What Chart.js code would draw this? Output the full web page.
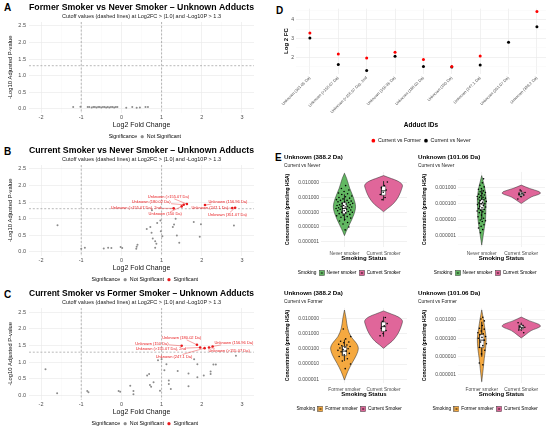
<!DOCTYPE html>
<html>
<head>
<meta charset="utf-8">
<script src="https://cdn.jsdelivr.net/npm/chart.js@4.4.1/dist/chart.umd.min.js"></script>
<style>
  body { margin: 0; width: 550px; height: 430px; background: #fff; position: relative; overflow: hidden;
         font-family: "Liberation Sans", Arial, sans-serif; }
  canvas { position: absolute; }
  .tag { position: absolute; font-weight: bold; font-size: 10px; line-height: 10px; color: #000; }
</style>
</head>
<body>
<div class="tag" style="left:4px;top:3px">A</div>
<div class="tag" style="left:4px;top:147px">B</div>
<div class="tag" style="left:4px;top:290px">C</div>
<div class="tag" style="left:276px;top:6px">D</div>
<div class="tag" style="left:275px;top:153px">E</div>

<canvas id="cA" width="268" height="143" style="left:0;top:0"></canvas>
<canvas id="cB" width="268" height="143" style="left:0;top:143px"></canvas>
<canvas id="cC" width="268" height="144" style="left:0;top:286px"></canvas>
<canvas id="cD" width="280" height="150" style="left:270px;top:0"></canvas>
<canvas id="cE1" width="141" height="130" style="left:284px;top:150px"></canvas>
<canvas id="cE2" width="132" height="130" style="left:418px;top:150px"></canvas>
<canvas id="cE3" width="141" height="130" style="left:284px;top:286px"></canvas>
<canvas id="cE4" width="132" height="130" style="left:418px;top:286px"></canvas>

<script>
// ---------- volcano data (log2 FC, -log10 adj p) ----------
const fcTicks = [-2, -1, 0, 1, 2, 3];
const pTicks = [0, 0.5, 1, 1.5, 2, 2.5];
const cutoffFC = 1.0;
const cutoffP = 1.3;

// A: former vs never
const aNsX = [-1.2, -1.02, -0.84, -0.8, -0.74, -0.7, -0.66, -0.62, -0.58, -0.54, -0.5, -0.46, -0.42, -0.38,
              -0.34, -0.3, -0.26, -0.22, -0.18, -0.14, -0.1, 0.12, 0.27, 0.38, 0.46, 0.6, 0.66];
const aNsY = [0.05, 0.06, 0.05, 0.05, 0.04, 0.05, 0.05, 0.04, 0.05, 0.05, 0.04, 0.05, 0.05, 0.04,
              0.05, 0.04, 0.05, 0.05, 0.04, 0.05, 0.05, 0.03, 0.05, 0.03, 0.04, 0.05, 0.05];

// B: current vs never
const bNsX = [-1.59, -1.0, -0.91, -0.44, -0.33, -0.25, -0.02, 0.02, 0.38, 0.4, 0.37, 0.63, 0.72, 0.75, 0.78, 0.84,
              0.84, 0.87, 0.89, 0.76, 0.97, 0.98, 1.02, 1.28, 1.31, 1.35, 1.38, 1.44, 1.8, 1.95, 1.98, 2.8];
const bNsY = [0.80, 0.09, 0.12, 0.10, 0.12, 0.11, 0.14, 0.11, 0.15, 0.21, 0.09, 0.69, 0.75, 0.57, 0.40, 0.32,
              0.12, 0.24, 0.87, 1.25, 0.94, 0.62, 0.47, 0.75, 0.82, 1.0, 0.49, 0.27, 0.9, 0.45, 0.83, 0.79];
const bSigName = ["Unknown (>155.07 Da), 2nd", "Unknown (150 Da)", "Unknown (180.02 Da)", "Unknown (>155.07 Da)",
                  "Unknown (156.96 Da)", "Unknown (247.1 Da)", "Unknown (351.07 Da)"];
const bSigX = [1.3, 1.5, 1.55, 1.63, 2.08, 2.76, 2.83];
const bSigY = [1.31, 1.37, 1.42, 1.44, 1.41, 1.32, 1.33];

// C: current vs former
const cNsX = [-1.89, -1.6, -0.85, -0.82, -0.07, -0.03, 0.22, 0.3, 0.3, 0.64, 0.69, 0.71, 0.74, 0.8, 0.96, 0.91, 1.0,
              1.07, 1.12, 1.18, 1.18, 1.23, 1.4, 1.67, 1.67, 1.81, 1.89, 1.89, 2.05, 2.22, 2.22, 2.29, 2.35, 2.85];
const cNsY = [0.79, 0.07, 0.14, 0.10, 0.14, 0.12, 0.30, 0.14, 0.04, 0.60, 0.65, 0.32, 0.27, 0.40, 0.15, 1.06, 1.09,
              0.76, 0.94, 0.45, 0.35, 0.20, 0.74, 0.66, 0.28, 1.09, 0.94, 0.55, 0.60, 0.65, 0.72, 0.93, 0.93, 1.19];
const cSigName = ["Unknown (150 Da)", "Unknown (180.02 Da)", "Unknown (>155.07 Da), 2nd", "Unknown (247.1 Da)",
                  "Unknown (>155.07 Da)", "Unknown (156.96 Da)"];
const cSigX = [1.5, 1.88, 1.96, 2.07, 2.18, 2.27];
const cSigY = [1.49, 1.52, 1.44, 1.42, 1.44, 1.47];

// ---------- D: log2 fold changes ----------
const adducts = ["Unknown (101.06 Da)", "Unknown (>155.07 Da)", "Unknown (>155.07 Da), 2nd", "Unknown (156.96 Da)",
                 "Unknown (180.02 Da)", "Unknown (150 Da)", "Unknown (247.1 Da)", "Unknown (351.07 Da)", "Unknown (388.2 Da)"];
const fcFormer = [3.3, 2.18, 1.96, 2.27, 1.88, 1.5, 2.07, null, 4.45];
const fcNever = [3.03, 1.61, 1.29, 2.05, 1.5, 1.48, 1.59, 2.8, 3.64];
const fcAxisTicks = [2, 3, 4];

// ---------- E: concentrations (log10 pmol/mg HSA) ----------
const ticks388 = [1e-2, 1e-3, 1e-4, 1e-5, 1e-6];
const ticks101 = [1e-3, 1e-4, 1e-5, 1e-6];

// violin outlines: level (log10) and density half-width
const never388Lv = [-1.36, -1.70, -2.38, -3.06, -3.63, -4.19, -4.87, -5.32, -5.59];
const never388Dens = [0, 0.054, 0.135, 0.236, 0.284, 0.236, 0.122, 0.041, 0];
const current388Lv = [-1.52, -1.72, -1.9, -2.15, -2.45, -2.85, -3.2, -3.5, -3.75, -3.97];
const current388Dens = [0, 0.2, 0.37, 0.48, 0.46, 0.4, 0.32, 0.22, 0.1, 0];
const former388Lv = [-1.46, -2.0, -2.66, -3.21, -3.64, -3.97, -4.41, -4.95, -5.5, -6.05];
const former388Dens = [0, 0.041, 0.082, 0.17, 0.306, 0.354, 0.306, 0.19, 0.082, 0];
const never101Lv = [-2.25, -2.63, -3.04, -3.66, -4.28, -4.90, -5.52, -6.04, -6.56];
const never101Dens = [0, 0.039, 0.078, 0.111, 0.105, 0.098, 0.065, 0.033, 0];
const current101Lv = [-2.84, -3.05, -3.24, -3.36, -3.58, -3.8, -3.98];
const current101Dens = [0, 0.21, 0.45, 0.48, 0.25, 0.11, 0];
const former101Lv = [-2.45, -2.91, -3.45, -4.0, -4.55, -5.09, -5.64, -6.37];
const former101Dens = [0, 0.039, 0.078, 0.111, 0.098, 0.065, 0.039, 0];

// box stats: lower whisker, q1, median, q3, upper whisker (log10)
const never388Box = [-4.6, -4.1, -3.75, -3.35, -2.8];
const current388Box = [-3.2, -2.85, -2.55, -2.25, -1.9];
const former388Box = [-4.8, -4.45, -4.15, -3.85, -3.4];
const never101Box = [-5.0, -4.35, -4.0, -3.75, -3.1];
const current101Box = [-3.6, -3.5, -3.4, -3.28, -3.15];
const former101Box = [-5.0, -4.5, -4.1, -3.8, -3.1];

// individual samples (log10)
const never388Pts = [-2.2, -2.4, -2.5, -2.6, -2.7, -2.75, -2.8, -2.9, -2.95, -3.0, -3.05, -3.1, -3.15, -3.2, -3.2, -3.25,
                     -3.3, -3.3, -3.35, -3.4, -3.4, -3.45, -3.5, -3.5, -3.55, -3.55, -3.6, -3.6, -3.65, -3.65, -3.7,
                     -3.7, -3.75, -3.75, -3.8, -3.8, -3.85, -3.9, -3.9, -3.95, -4.0, -4.0, -4.05, -4.1, -4.15, -4.2,
                     -4.25, -4.3, -4.35, -4.4, -4.5, -4.6, -4.7, -4.8, -5.0, -5.2];
const current388Pts = [-1.95, -2.2, -2.35, -2.5, -2.65, -2.8, -3.0, -3.15];
const former388Pts = [-2.7, -3.2, -3.35, -3.5, -3.55, -3.6, -3.7, -3.75, -3.8, -3.85, -3.9, -3.95, -4.0, -4.05,
                      -4.1, -4.15, -4.2, -4.3, -4.4, -4.5, -4.65, -4.8, -5.0, -5.3];
const never101Pts = [-2.45, -2.7, -2.85, -2.95, -3.05, -3.1, -3.2, -3.25, -3.3, -3.35, -3.4, -3.45, -3.5, -3.55,
                     -3.6, -3.6, -3.65, -3.7, -3.7, -3.75, -3.8, -3.85, -3.9, -3.95, -4.0, -4.0, -4.05, -4.1, -4.15,
                     -4.2, -4.25, -4.3, -4.35, -4.4, -4.45, -4.5, -4.55, -4.6, -4.7, -4.8, -4.9, -5.0, -5.05, -5.1,
                     -5.2, -5.3, -5.4, -5.5, -5.6, -5.8];
const current101Pts = [-3.15, -3.3, -3.35, -3.4, -3.45, -3.55, -3.7];
const former101Pts = [-2.85, -2.95, -3.05, -3.3, -3.45, -3.5, -3.6, -3.7, -3.75, -3.8, -3.9, -3.95, -4.0, -4.1,
                      -4.2, -4.3, -4.4, -4.5, -4.65, -4.85, -5.35, -5.45];

// ---------- shared styling ----------
const FONT = "'Liberation Sans', Arial, sans-serif";
const AX = '#4d4d4d';
const RED = '#e8191c';
const GREEN = '#62b862';
const PINK = '#e0669a';
const ORANGE = '#f5a940';
const GRID_MAJOR = '#e8e8e8';
const GRID_MINOR = '#f4f4f4';
const SUB = 'Cutoff values (dashed lines) at Log2FC > |1.0| and -Log10P > 1.3';

function near(list, v) { return list.some(t => Math.abs(t - v) < 1e-9); }
function gridStyle(majors) {
  return {
    drawTicks: false,
    color: c => (c.tick && near(majors, c.tick.value)) ? GRID_MAJOR : GRID_MINOR,
    lineWidth: c => (c.tick && near(majors, c.tick.value)) ? 0.6 : 0.4
  };
}
function blankMarker() { const c = document.createElement('canvas'); c.width = 1; c.height = 1; return c; }
function keyMarker(fill) {
  const c = document.createElement('canvas'); c.width = 6; c.height = 6;
  const g = c.getContext('2d');
  g.fillStyle = fill; g.fillRect(0.5, 0.5, 5, 5);
  g.strokeStyle = '#333'; g.lineWidth = 0.5; g.strokeRect(0.5, 0.5, 5, 5);
  g.fillStyle = '#000'; g.beginPath(); g.arc(3, 3, 0.8, 0, Math.PI * 2); g.fill();
  return c;
}

// dashed cutoff lines
const cutoffs = {
  id: 'cutoffs',
  beforeDatasetsDraw(chart, args, opts) {
    const { ctx, chartArea: a, scales: { x, y } } = chart;
    ctx.save();
    ctx.strokeStyle = '#8a8a8a'; ctx.lineWidth = 0.6; ctx.setLineDash([2, 1.8]);
    [-opts.fc, opts.fc].forEach(v => {
      const px = x.getPixelForValue(v);
      ctx.beginPath(); ctx.moveTo(px, a.top); ctx.lineTo(px, a.bottom); ctx.stroke();
    });
    const py = y.getPixelForValue(opts.p);
    ctx.beginPath(); ctx.moveTo(a.left, py); ctx.lineTo(a.right, py); ctx.stroke();
    ctx.restore();
  }
};

// labels for significant adducts, with a leader line when the label sits away
const repelLabels = {
  id: 'repelLabels',
  afterDatasetsDraw(chart, args, opts) {
    if (!opts.names || !opts.names.length) return;
    const { ctx, scales: { x, y } } = chart;
    const size = 4;
    ctx.save();
    ctx.font = size + 'px ' + FONT;
    ctx.fillStyle = RED; ctx.strokeStyle = RED; ctx.lineWidth = 0.4;
    ctx.textAlign = 'center'; ctx.textBaseline = 'middle';
    opts.names.forEach((name, i) => {
      const px = x.getPixelForValue(opts.px[i]), py = y.getPixelForValue(opts.py[i]);
      const tx = x.getPixelForValue(opts.at[i][0]), ty = y.getPixelForValue(opts.at[i][1]);
      const hw = ctx.measureText(name).width / 2 + 0.4, hh = size * 0.6;
      const dx = px - tx, dy = py - ty;
      const t = Math.min(dx ? hw / Math.abs(dx) : Infinity, dy ? hh / Math.abs(dy) : Infinity);
      if (t < 0.9) {
        ctx.beginPath(); ctx.moveTo(tx + dx * t, ty + dy * t); ctx.lineTo(px - dx * 0.03, py - dy * 0.03); ctx.stroke();
      }
      ctx.fillText(name, tx, ty);
    });
    ctx.restore();
  }
};

function volcano(id, title, nsX, nsY, sigName, sigX, sigY, labelAt) {
  const ns = nsX.map((x, i) => ({ x, y: nsY[i] }));
  const sig = sigX.map((x, i) => ({ x, y: sigY[i] }));
  const items = [
    { text: 'Significance', fillStyle: 'rgba(0,0,0,0)', strokeStyle: 'rgba(0,0,0,0)', lineWidth: 0, pointStyle: blankMarker() },
    { text: 'Not Significant', fillStyle: '#8c8c8c', strokeStyle: '#8c8c8c', lineWidth: 0, pointStyle: 'circle' }
  ];
  if (sig.length) items.push({ text: 'Significant', fillStyle: RED, strokeStyle: RED, lineWidth: 0, pointStyle: 'circle' });
  const fcGrid = [-2, -1.5, -1, -0.5, 0, 0.5, 1, 1.5, 2, 2.5, 3];
  const pGrid = [0, 0.25, 0.5, 0.75, 1, 1.25, 1.5, 1.75, 2, 2.25, 2.5];

  new Chart(document.getElementById(id), {
    type: 'scatter',
    data: {
      datasets: [
        { label: 'Significant', data: sig, pointRadius: 1.3, backgroundColor: RED, borderWidth: 0 },
        { label: 'Not Significant', data: ns, pointRadius: 1.0, backgroundColor: '#8c8c8c', borderWidth: 0 }
      ]
    },
    options: {
      responsive: false, animation: false, events: [],
      layout: { padding: { left: 0, right: 14, top: 0, bottom: 0 } },
      plugins: {
        title: { display: true, text: title, align: 'center', fullSize: false, color: '#000',
                 font: { family: FONT, size: 9, weight: 'bold' }, padding: { top: 1.9, bottom: 0 } },
        subtitle: { display: true, text: SUB, align: 'center', fullSize: false, color: '#222',
                    font: { family: FONT, size: 5.5 }, padding: { top: 0, bottom: 2.7 } },
        legend: { position: 'bottom', fullSize: false, maxHeight: 11.95,
                  labels: { usePointStyle: true, boxWidth: 4, boxHeight: 2.3, padding: 3, color: '#222',
                            font: { family: FONT, size: 5.3 }, generateLabels: () => items } },
        tooltip: { enabled: false },
        cutoffs: { fc: cutoffFC, p: cutoffP },
        repelLabels: { names: sigName, px: sigX, py: sigY, at: labelAt }
      },
      scales: {
        x: {
          type: 'linear', min: -2.3, max: 3.3,
          afterBuildTicks: s => { s.ticks = fcGrid.map(v => ({ value: v })); },
          afterFit: s => { s.height = 18.35; },
          ticks: { callback: v => near(fcTicks, v) ? String(v) : '', padding: 1.5, color: AX, maxRotation: 0,
                   font: { family: FONT, size: 5.5 } },
          grid: gridStyle(fcTicks), border: { display: false },
          title: { display: true, text: 'Log2 Fold Change', color: '#111', font: { family: FONT, size: 7 },
                   padding: { top: 0, bottom: 1.85 } }
        },
        y: {
          type: 'linear', min: -0.12, max: 2.62,
          afterBuildTicks: s => { s.ticks = pGrid.map(v => ({ value: v })); },
          afterFit: s => { s.width = 29; },
          ticks: { callback: v => near(pTicks, v) ? v.toFixed(1) : '', padding: 3, color: AX,
                   font: { family: FONT, size: 5.5 } },
          grid: gridStyle(pTicks), border: { display: false },
          title: { display: true, text: '-Log10 Adjusted P-value', color: '#111', font: { family: FONT, size: 5.8 },
                   padding: { top: 6.5, bottom: 0 } }
        }
      }
    },
    plugins: [cutoffs, repelLabels]
  });
}

volcano('cA', 'Former Smoker vs Never Smoker \u2013 Unknown Adducts', aNsX, aNsY, [], [], [], []);
volcano('cB', 'Current Smoker vs Never Smoker \u2013 Unknown Adducts', bNsX, bNsY, bSigName, bSigX, bSigY,
        [[0.36, 1.31], [1.09, 1.13], [0.74, 1.5], [1.17, 1.67], [2.65, 1.51], [2.2, 1.31], [2.64, 1.12]]);
volcano('cC', 'Current Smoker vs Former Smoker \u2013 Unknown Adducts', cNsX, cNsY, cSigName, cSigX, cSigY,
        [[0.76, 1.56], [1.5, 1.74], [0.98, 1.39], [1.31, 1.16], [2.68, 1.34], [2.8, 1.59]]);

// ---------- D ----------
const dPos = adducts.map((a, i) => i + 1);
new Chart(document.getElementById('cD'), {
  type: 'scatter',
  data: {
    datasets: [
      { label: 'Current vs Former', data: dPos.map((x, i) => ({ x, y: fcFormer[i] })), pointRadius: 1.5,
        pointBorderWidth: 0, backgroundColor: '#ff0000', borderColor: '#ff0000' },
      { label: 'Current vs Never', data: dPos.map((x, i) => ({ x, y: fcNever[i] })), pointRadius: 1.5,
        pointBorderWidth: 0, backgroundColor: '#000000', borderColor: '#000000' }
    ]
  },
  options: {
    responsive: false, animation: false, events: [],
    layout: { padding: { left: 0, right: 3, top: 8.6, bottom: 0 } },
    plugins: {
      legend: { position: 'bottom', fullSize: false, maxHeight: 14.95,
                labels: { usePointStyle: true, pointStyle: 'circle', boxWidth: 4, boxHeight: 2.6, padding: 3,
                          color: '#111', font: { family: FONT, size: 5.3 } } },
      tooltip: { enabled: false }
    },
    scales: {
      x: {
        type: 'linear', min: 0.51, max: 9.32,
        afterBuildTicks: s => { s.ticks = dPos.map(v => ({ value: v })); },
        afterFit: s => { s.height = 61.55; s.paddingLeft = 0; s.paddingRight = 0; },
        ticks: { callback: v => adducts[Math.round(v) - 1], autoSkip: false, minRotation: 45, maxRotation: 45,
                 padding: 2, color: AX, font: { family: FONT, size: 4 } },
        grid: { drawTicks: false, color: GRID_MAJOR, lineWidth: 0.6 }, border: { display: false },
        title: { display: true, text: 'Adduct IDs', color: '#000', font: { family: FONT, size: 6.5, weight: 'bold' },
                 padding: { top: 0, bottom: 6.15 } }
      },
      y: {
        type: 'linear', min: 1.13, max: 4.61,
        afterBuildTicks: s => { s.ticks = [1.5, 2, 2.5, 3, 3.5, 4, 4.5].map(v => ({ value: v })); },
        afterFit: s => { s.width = 26; },
        ticks: { callback: v => near(fcAxisTicks, v) ? String(v) : '', padding: 2, color: AX,
                 font: { family: FONT, size: 5 } },
        grid: gridStyle(fcAxisTicks), border: { display: false },
        title: { display: true, text: 'Log 2 FC', color: '#000', font: { family: FONT, size: 6, weight: 'bold' },
                 padding: { top: 12.4, bottom: 0 } }
      }
    }
  }
});

// ---------- E: violins ----------
function widthAt(lv, dens, v) {
  for (let i = 0; i < lv.length - 1; i++) {
    const a = lv[i], b = lv[i + 1];
    if (v <= a && v >= b) return dens[i] + (dens[i + 1] - dens[i]) * (a - v) / (a - b);
  }
  return 0;
}
function jitter(i, seed) { return (((i + 1) * 0.6180339887 + seed * 0.37) % 1) * 2 - 1; }
const pow = v => Math.pow(10, v);

function violinPanel(id, o) {
  const ds = [];
  o.groups.forEach((g, gi) => {
    const cx = gi + 1;
    ds.push({
      data: g.pts.map((v, i) => ({ x: cx + jitter(i, gi + o.seed) * Math.min(g.jit, widthAt(g.lv, g.dens, v) * 0.85 + 0.03),
                                   y: pow(v) })),
      pointRadius: 0.8, backgroundColor: '#000', borderWidth: 0, order: 0
    });
    const [lo, q1, med, q3, hi] = g.box, bw = 0.055;
    ds.push({ data: [{ x: cx - bw, y: pow(med) }, { x: cx + bw, y: pow(med) }], showLine: true, pointRadius: 0,
              borderColor: '#000', borderWidth: 0.8, order: 1 });
    ds.push({ data: [{ x: cx - bw, y: pow(q1) }, { x: cx + bw, y: pow(q1) }, { x: cx + bw, y: pow(q3) },
                     { x: cx - bw, y: pow(q3) }, { x: cx - bw, y: pow(q1) }],
              showLine: true, fill: 'shape', backgroundColor: '#fff', borderColor: '#222', borderWidth: 0.5,
              pointRadius: 0, tension: 0, order: 2 });
    ds.push({ data: [{ x: cx, y: pow(hi) }, { x: cx, y: pow(q3) }], showLine: true, pointRadius: 0,
              borderColor: '#222', borderWidth: 0.5, order: 3 });
    ds.push({ data: [{ x: cx, y: pow(q1) }, { x: cx, y: pow(lo) }], showLine: true, pointRadius: 0,
              borderColor: '#222', borderWidth: 0.5, order: 3 });
    const right = g.lv.map((v, i) => ({ x: cx + g.dens[i], y: pow(v) }));
    const left = g.lv.map((v, i) => ({ x: cx - g.dens[i], y: pow(v) })).reverse();
    ds.push({ data: right.concat(left), showLine: true, fill: 'shape', backgroundColor: g.color, borderColor: '#2a2a2a',
              borderWidth: 0.5, pointRadius: 0, tension: 0.35, order: 4 });
  });

  const decades = o.ticks;
  const grid = decades.slice();
  decades.forEach(t => { const m = t * Math.pow(10, -0.5); if (m >= pow(o.yLo)) grid.push(m); });
  decades.forEach(t => { const m = t * Math.pow(10, 0.5); if (m <= pow(o.yHi)) grid.push(m); });
  const uniq = grid.filter((v, i) => grid.findIndex(w => Math.abs(Math.log10(w) - Math.log10(v)) < 1e-6) === i)
                   .sort((a, b) => a - b);
  const isDecade = v => decades.some(t => Math.abs(Math.log10(t) - Math.log10(v)) < 1e-6);

  const items = [{ text: 'Smoking', fillStyle: 'rgba(0,0,0,0)', strokeStyle: 'rgba(0,0,0,0)', lineWidth: 0,
                   pointStyle: blankMarker() }]
    .concat(o.groups.map(g => ({ text: g.name, fillStyle: g.color, strokeStyle: '#333', lineWidth: 0.5,
                                 pointStyle: keyMarker(g.color) })));

  new Chart(document.getElementById(id), {
    type: 'scatter',
    data: { datasets: ds },
    options: {
      responsive: false, animation: false, events: [],
      layout: { padding: { left: 0, right: o.padR, top: 0, bottom: 0 } },
      plugins: {
        title: { display: true, text: o.title, align: 'start', fullSize: true, color: '#000',
                 font: { family: FONT, size: 6.2, weight: 'bold' }, padding: { top: 4, bottom: 0 } },
        subtitle: { display: true, text: o.subtitle, align: 'start', fullSize: true, color: '#222',
                    font: { family: FONT, size: 4.8 }, padding: { top: 1.4, bottom: 3.3 } },
        legend: { position: 'bottom', fullSize: true, maxHeight: 12.4,
                  labels: { usePointStyle: true, boxWidth: 6, boxHeight: 4.8, padding: 3, color: '#222',
                            font: { family: FONT, size: 4.8 }, generateLabels: () => items } },
        tooltip: { enabled: false }
      },
      scales: {
        x: {
          type: 'linear', min: 0.4, max: 2.6,
          afterBuildTicks: s => { s.ticks = [{ value: 1 }, { value: 2 }]; },
          afterFit: s => { s.height = 20.6; s.paddingLeft = 0; s.paddingRight = 0; },
          ticks: { callback: v => v === 1 ? o.groups[0].name : o.groups[1].name, padding: 3.3, color: AX,
                   maxRotation: 0, font: { family: FONT, size: 4.8 } },
          grid: { drawTicks: false, color: GRID_MAJOR, lineWidth: 0.6 }, border: { display: false },
          title: { display: true, text: 'Smoking Status', color: '#000', font: { family: FONT, size: 6, weight: 'bold' },
                   padding: { top: 0, bottom: 5.7 } }
        },
        y: {
          type: 'logarithmic', min: pow(o.yLo), max: pow(o.yHi),
          afterBuildTicks: s => { s.ticks = uniq.map(v => ({ value: v })); },
          afterFit: s => { s.width = o.yW; },
          ticks: { callback: v => isDecade(v) ? v.toFixed(6) : '', padding: 2, color: AX,
                   font: { family: FONT, size: 5 } },
          grid: { drawTicks: false, color: c => (c.tick && isDecade(c.tick.value)) ? GRID_MAJOR : GRID_MINOR,
                  lineWidth: c => (c.tick && isDecade(c.tick.value)) ? 0.6 : 0.4 },
          border: { display: false },
          title: { display: true, text: 'Concentration (pmol/mg HSA)', color: '#000',
                   font: { family: FONT, size: 5, weight: 'bold' }, padding: { top: o.yTitlePad, bottom: 0 } }
        }
      }
    }
  });
}

const gNever388 = { name: 'Never smoker', color: GREEN, lv: never388Lv, dens: never388Dens, box: never388Box, pts: never388Pts, jit: 0.22 };
const gCurrent388 = { name: 'Current Smoker', color: PINK, lv: current388Lv, dens: current388Dens, box: current388Box, pts: current388Pts, jit: 0.1 };
const gFormer388 = { name: 'Former smoker', color: ORANGE, lv: former388Lv, dens: former388Dens, box: former388Box, pts: former388Pts, jit: 0.17 };
const gNever101 = { name: 'Never smoker', color: GREEN, lv: never101Lv, dens: never101Dens, box: never101Box, pts: never101Pts, jit: 0.13 };
const gCurrent101 = { name: 'Current Smoker', color: PINK, lv: current101Lv, dens: current101Dens, box: current101Box, pts: current101Pts, jit: 0.1 };
const gFormer101 = { name: 'Former smoker', color: ORANGE, lv: former101Lv, dens: former101Dens, box: former101Box, pts: former101Pts, jit: 0.13 };

violinPanel('cE1', { title: 'Unknown (388.2 Da)', subtitle: 'Current vs Never', groups: [gNever388, gCurrent388],
                     ticks: ticks388, yLo: -6.36, yHi: -1.27, yW: 37, yTitlePad: 0.5, padR: 18, seed: 0 });
violinPanel('cE2', { title: 'Unknown (101.06 Da)', subtitle: 'Current vs Never', groups: [gNever101, gCurrent101],
                     ticks: ticks101, yLo: -6.68, yHi: -2.02, yW: 40, yTitlePad: 3.5, padR: 5, seed: 1 });
violinPanel('cE3', { title: 'Unknown (388.2 Da)', subtitle: 'Current vs Former', groups: [gFormer388, gCurrent388],
                     ticks: ticks388, yLo: -6.24, yHi: -1.32, yW: 37, yTitlePad: 0.5, padR: 18, seed: 2 });
violinPanel('cE4', { title: 'Unknown (101.06 Da)', subtitle: 'Current vs Former', groups: [gFormer101, gCurrent101],
                     ticks: ticks101, yLo: -6.44, yHi: -2.34, yW: 40, yTitlePad: 3.5, padR: 5, seed: 3 });
</script>
</body>
</html>
